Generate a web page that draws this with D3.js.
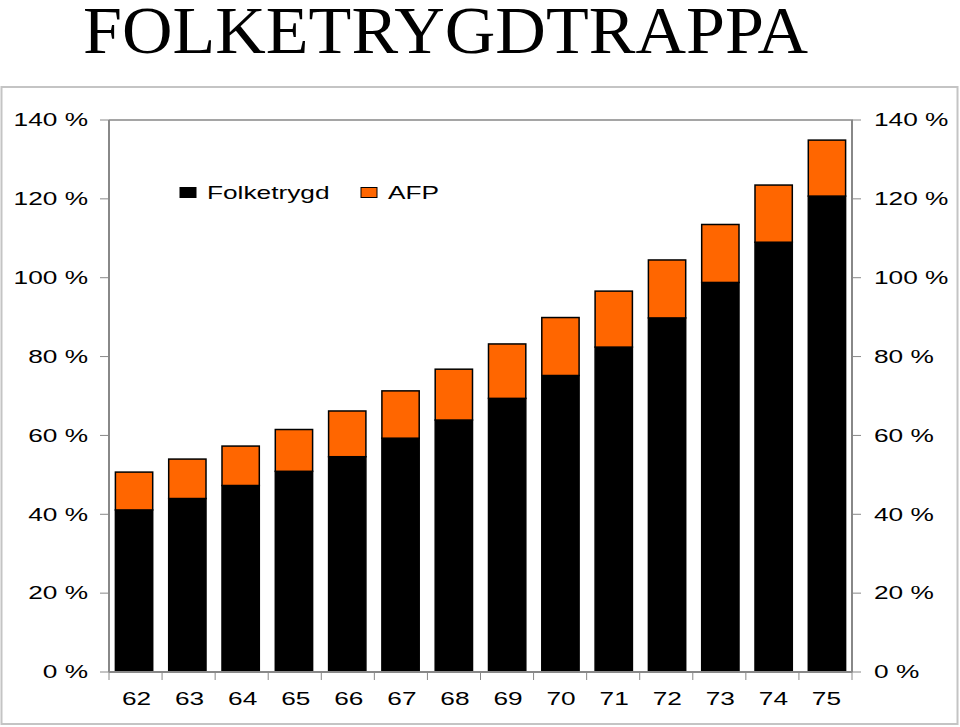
<!DOCTYPE html>
<html>
<head>
<meta charset="utf-8">
<script src="https://cdn.jsdelivr.net/npm/d3@7"></script>
<style>
  body { margin: 0; background: #fff; }
  svg text { font-family: "Liberation Sans", Arial, sans-serif; }
</style>
</head>
<body>
<div id="chart"></div>
<script>
// ages along the x axis
var ages = ["62", "63", "64", "65", "66", "67", "68", "69", "70", "71", "72", "73", "74", "75"];
// percent values
var folketrygd = [41.1, 44.0, 47.3, 50.9, 54.6, 59.3, 63.9, 69.4, 75.2, 82.4, 89.8, 98.8, 109.0, 120.7];
var afp = [9.6, 10.0, 10.0, 10.6, 11.6, 12.0, 12.9, 13.8, 14.7, 14.2, 14.7, 14.7, 14.5, 14.2];
var yTicks = [0, 20, 40, 60, 80, 100, 120, 140];
var seriesNames = ["Folketrygd", "AFP"];
var seriesColors = ["#000000", "#ff6600"];

var W = 960, H = 727;
var margin = {top: 120, right: 108, bottom: 55, left: 109},
  width = W - margin.left - margin.right,
  height = H - margin.top - margin.bottom;
var stretch = 1.5; // sans text in the picture is horizontally stretched

var svg = d3.select("#chart")
  .append("svg")
    .attr("width", W)
    .attr("height", H);

// title
svg.append("text")
  .attr("x", 83)
  .attr("y", 53)
  .attr("textLength", 725)
  .attr("lengthAdjust", "spacingAndGlyphs")
  .style("font-family", "'Liberation Serif', 'Times New Roman', serif")
  .style("font-size", "68px")
  .style("fill", "#000")
  .text("FOLKETRYGDTRAPPA");

// outer frame
svg.append("rect")
  .attr("x", 1.5)
  .attr("y", 87)
  .attr("width", 956)
  .attr("height", 637)
  .style("fill", "none")
  .style("stroke", "#c4c4c4")
  .style("stroke-width", 2);

var g = svg.append("g")
  .attr("transform", "translate(" + margin.left + "," + margin.top + ")");

// scales
var x = d3.scaleBand()
  .domain(ages)
  .range([0, width])
  .paddingInner(0.3)
  .paddingOuter(0.12);
var xTick = d3.scaleBand()
  .domain(ages)
  .range([0, width]);
var y = d3.scaleLinear()
  .domain([0, 140])
  .range([height, 0]);

// plot frame (top and right border)
g.append("path")
  .attr("d", "M0," + y(140) + "H" + width + "V" + height)
  .style("fill", "none")
  .style("stroke", "#888")
  .style("stroke-width", 1.5);

// stacked data
var stacked = ages.map(function(a, i) {
  return {age: a, parts: [[0, folketrygd[i]], [folketrygd[i], folketrygd[i] + afp[i]]]};
});

// bars
stacked.forEach(function(d) {
  d.parts.forEach(function(p, k) {
    g.append("rect")
      .attr("x", x(d.age))
      .attr("y", y(p[1]))
      .attr("width", x.bandwidth())
      .attr("height", y(p[0]) - y(p[1]))
      .style("fill", seriesColors[k])
      .style("stroke", "#000")
      .style("stroke-width", 1.5);
  });
});

// left and right y axes
function yAxis(side) {
  var ax = g.append("g")
    .attr("transform", "translate(" + (side == "left" ? 0 : width) + ",0)");
  ax.append("line")
    .attr("y1", 0).attr("y2", height)
    .style("stroke", "#888").style("stroke-width", 2);
  yTicks.forEach(function(t) {
    var dir = side == "left" ? -1 : 1;
    ax.append("line")
      .attr("x1", 0).attr("x2", dir * 9)
      .attr("y1", y(t)).attr("y2", y(t))
      .style("stroke", "#888").style("stroke-width", 1);
    ax.append("text")
      .attr("transform", "translate(" + (side == "left" ? -21 : 22) + "," + y(t) + ") scale(" + stretch + ",1)")
      .attr("dy", "0.36em")
      .attr("text-anchor", side == "left" ? "end" : "start")
      .style("font-size", "17.5px")
      .style("fill", "#000")
      .text(t + " %");
  });
}
yAxis("left");
yAxis("right");

// x axis
var xa = g.append("g").attr("transform", "translate(0," + height + ")");
xa.append("line")
  .attr("x1", 0).attr("x2", width)
  .style("stroke", "#888").style("stroke-width", 2);
ages.concat(["end"]).forEach(function(a, i) {
  var xx = i < ages.length ? xTick(a) : width;
  xa.append("line")
    .attr("x1", xx).attr("x2", xx)
    .attr("y1", 0).attr("y2", 8)
    .style("stroke", "#888").style("stroke-width", 1);
});
ages.forEach(function(a) {
  xa.append("text")
    .attr("transform", "translate(" + (xTick(a) + xTick.bandwidth() / 2 + 1) + ",27) scale(" + stretch + ",1)")
    .attr("dy", "0.36em")
    .attr("text-anchor", "middle")
    .style("font-size", "17.5px")
    .style("fill", "#000")
    .text(a);
});

// legend
var legendX = [180, 361];
seriesNames.forEach(function(name, k) {
  var lg = svg.append("g")
    .attr("transform", "translate(" + legendX[k] + ",193)");
  lg.append("rect")
    .attr("x", 0).attr("y", -5.5)
    .attr("width", 16).attr("height", 10)
    .style("fill", seriesColors[k])
    .style("stroke", "#000")
    .style("stroke-width", 1);
  lg.append("text")
    .attr("transform", "translate(27,0) scale(" + stretch + ",1)")
    .attr("dy", "0.36em")
    .style("font-size", "17.5px")
    .style("fill", "#000")
    .text(name);
});
</script>
</body>
</html>
